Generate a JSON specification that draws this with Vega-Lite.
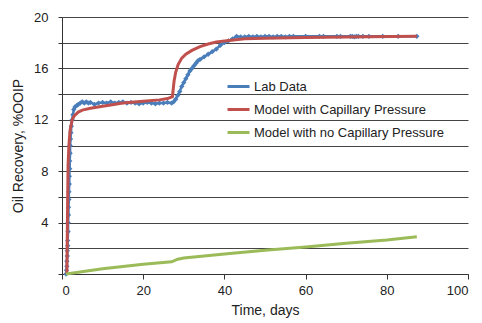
{
  "$schema": "https://vega.github.io/schema/vega-lite/v6.json",
  "autosize": {"type": "none"},
  "width": 406,
  "height": 257,
  "padding": {"left": 62, "top": 17, "right": 14, "bottom": 49},
  "background": "white",
  "config": {
    "font": "Liberation Sans",
    "view": {"stroke": null},
    "axis": {"labelFont": "Liberation Sans", "titleFont": "Liberation Sans", "labelColor": "#222", "titleColor": "#222", "titleFontWeight": "normal"}
  },
  "datasets": {
    "lab": [
      {"t":1.0,"r":0},{"t":1.1,"r":0.3},{"t":1.2,"r":0.6},{"t":1.2,"r":1.0},{"t":1.3,"r":1.4},{"t":1.3,"r":1.8},{"t":1.4,"r":2.2},{"t":1.4,"r":2.6},{"t":1.5,"r":3.3},{"t":1.5,"r":4.0},{"t":1.6,"r":4.6},{"t":1.6,"r":5.2},{"t":1.7,"r":5.8},{"t":1.7,"r":6.4},{"t":1.8,"r":7.0},{"t":1.8,"r":7.6},{"t":1.9,"r":8.2},{"t":1.9,"r":8.8},{"t":2.0,"r":9.4},{"t":2.0,"r":10.0},{"t":2.1,"r":10.5},{"t":2.2,"r":11.0},{"t":2.3,"r":11.5},{"t":2.5,"r":12.0},{"t":2.7,"r":12.4},{"t":2.9,"r":12.8},{"t":3.2,"r":13.0},{"t":3.6,"r":13.1},{"t":4.0,"r":13.2},{"t":4.5,"r":13.3},{"t":5,"r":13.4},{"t":5.5,"r":13.3},{"t":6,"r":13.4},{"t":6.5,"r":13.3},{"t":7,"r":13.35},{"t":8,"r":13.2},{"t":9,"r":13.3},{"t":10,"r":13.35},{"t":11,"r":13.3},{"t":12,"r":13.4},{"t":13,"r":13.3},{"t":14,"r":13.35},{"t":15,"r":13.4},{"t":16,"r":13.3},{"t":17,"r":13.35},{"t":18,"r":13.3},{"t":19,"r":13.25},{"t":20,"r":13.3},{"t":21,"r":13.35},{"t":22,"r":13.3},{"t":23,"r":13.25},{"t":24,"r":13.3},{"t":25,"r":13.3},{"t":26,"r":13.35},{"t":27,"r":13.3},{"t":27.5,"r":13.4},{"t":28,"r":13.6},{"t":28.5,"r":13.9},{"t":29,"r":14.2},{"t":29.5,"r":14.6},{"t":30,"r":14.9},{"t":30.5,"r":15.2},{"t":31,"r":15.5},{"t":31.5,"r":15.8},{"t":32,"r":16.0},{"t":32.5,"r":16.2},{"t":33,"r":16.4},{"t":33.5,"r":16.6},{"t":34,"r":16.7},{"t":35,"r":16.9},{"t":36,"r":17.1},{"t":37,"r":17.3},{"t":38,"r":17.5},{"t":39,"r":17.8},{"t":40,"r":18.0},{"t":41,"r":18.15},{"t":42,"r":18.3},{"t":43,"r":18.5},{"t":44,"r":18.45},{"t":45,"r":18.45},{"t":46,"r":18.5},{"t":47,"r":18.45},{"t":48,"r":18.5},{"t":49,"r":18.45},{"t":50,"r":18.5},{"t":51,"r":18.5},{"t":52,"r":18.45},{"t":53,"r":18.5},{"t":54,"r":18.5},{"t":55,"r":18.45},{"t":56,"r":18.5},{"t":57,"r":18.5},{"t":60,"r":18.5},{"t":63.4,"r":18.5},{"t":64.4,"r":18.5},{"t":67.7,"r":18.5},{"t":68.6,"r":18.5},{"t":71,"r":18.5},{"t":71.5,"r":18.5},{"t":72,"r":18.45},{"t":72.5,"r":18.5},{"t":73,"r":18.5},{"t":74.1,"r":18.5},{"t":75.6,"r":18.5},{"t":79,"r":18.5},{"t":82.8,"r":18.5},{"t":87.4,"r":18.5}
    ],
    "cap": [
      {"t":1.2,"r":0},{"t":1.3,"r":3},{"t":1.4,"r":6},{"t":1.5,"r":8.5},{"t":1.7,"r":10},{"t":2.0,"r":11.2},{"t":2.5,"r":12.0},{"t":3,"r":12.3},{"t":4,"r":12.6},{"t":5,"r":12.75},{"t":7,"r":12.9},{"t":10,"r":13.05},{"t":12,"r":13.15},{"t":15,"r":13.3},{"t":20,"r":13.45},{"t":24,"r":13.55},{"t":26,"r":13.65},{"t":27.2,"r":13.8},{"t":27.6,"r":15.0},{"t":28,"r":15.7},{"t":28.6,"r":16.3},{"t":29.5,"r":16.8},{"t":30.5,"r":17.1},{"t":32,"r":17.4},{"t":34,"r":17.7},{"t":36,"r":17.9},{"t":38,"r":18.05},{"t":40.6,"r":18.15},{"t":45,"r":18.3},{"t":50,"r":18.35},{"t":60,"r":18.4},{"t":70,"r":18.45},{"t":87.4,"r":18.5}
    ],
    "nocap": [
      {"t":1,"r":0},{"t":10,"r":0.4},{"t":20,"r":0.75},{"t":27,"r":0.95},{"t":28.5,"r":1.15},{"t":30,"r":1.25},{"t":40,"r":1.55},{"t":50,"r":1.85},{"t":60,"r":2.1},{"t":70,"r":2.4},{"t":80,"r":2.65},{"t":87.4,"r":2.9}
    ]
  },
  "encoding": {
    "x": {"field": "t", "type": "quantitative", "scale": {"domain": [0, 100], "nice": false},
      "axis": {"title": "Time, days", "values": [0,20,40,60,80,100], "grid": false, "domainColor": "#333", "tickColor": "#333", "tickSize": 5, "labelFontSize": 13, "labelPadding": 5, "titleFontSize": 14, "titlePadding": 6}},
    "y": {"field": "r", "type": "quantitative", "scale": {"domain": [0, 20], "nice": false},
      "axis": {"title": "Oil Recovery, %OOIP", "values": [0,2,4,6,8,10,12,14,16,18,20], "labelExpr": "datum.value % 4 == 0 && datum.value > 0 ? datum.label : ''", "grid": true, "gridColor": "#444", "gridWidth": 1, "domainColor": "#333", "tickColor": "#333", "tickSize": 4, "labelFontSize": 13, "labelPadding": 10, "titleFontSize": 14, "titlePadding": 8}}
  },
  "layer": [
    {
      "data": {"name": "lab"},
      "transform": [{"calculate": "'Lab Data'", "as": "series"}],
      "mark": {"type": "line", "strokeWidth": 2.5},
      "encoding": {"color": {"field": "series", "type": "nominal",
        "scale": {"domain": ["Lab Data", "Model with Capillary Pressure", "Model with no Capillary Pressure"], "range": ["#4a7ebb", "#c0504d", "#9bbb59"]},
        "legend": {"title": null, "orient": "none", "legendX": 164, "legendY": 57, "symbolType": "stroke", "symbolSize": 484, "symbolStrokeWidth": 3, "labelFontSize": 13, "labelColor": "#222", "labelFont": "Liberation Sans", "labelLimit": 300, "rowPadding": 3, "labelOffset": 3}}}
    },
    {
      "data": {"name": "lab"},
      "mark": {"type": "point", "shape": "diamond", "filled": true, "size": 28, "color": "#4a7ebb", "opacity": 1}
    },
    {
      "data": {"name": "cap"},
      "transform": [{"calculate": "'Model with Capillary Pressure'", "as": "series"}],
      "mark": {"type": "line", "strokeWidth": 3},
      "encoding": {"color": {"field": "series", "type": "nominal"}}
    },
    {
      "data": {"name": "nocap"},
      "transform": [{"calculate": "'Model with no Capillary Pressure'", "as": "series"}],
      "mark": {"type": "line", "strokeWidth": 3},
      "encoding": {"color": {"field": "series", "type": "nominal"}}
    }
  ],
  "resolve": {"scale": {"color": "shared"}}
}
